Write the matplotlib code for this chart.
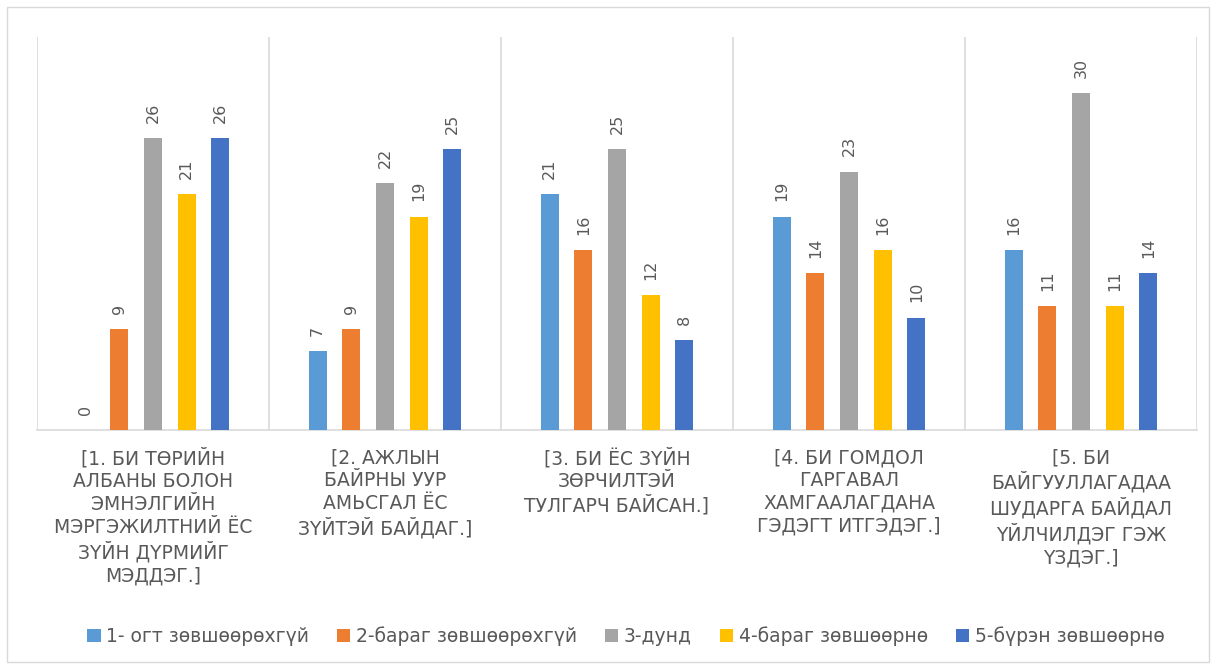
import numpy as np
import matplotlib.pyplot as plt
from matplotlib.patches import Rectangle

plt.rcParams['font.family'] = ['DejaVu Sans']

kategorie = [
    '[1. БИ ТӨРИЙН\nАЛБАНЫ БОЛОН\nЭМНЭЛГИЙН\nМЭРГЭЖИЛТНИЙ ЁС\nЗҮЙН ДҮРМИЙГ\nМЭДДЭГ.]',
    '[2. АЖЛЫН\nБАЙРНЫ УУР\nАМЬСГАЛ ЁС\nЗҮЙТЭЙ БАЙДАГ.]',
    '[3. БИ ЁС ЗҮЙН\nЗӨРЧИЛТЭЙ\nТУЛГАРЧ БАЙСАН.]',
    '[4. БИ ГОМДОЛ\nГАРГАВАЛ\nХАМГААЛАГДАНА\nГЭДЭГТ ИТГЭДЭГ.]',
    '[5. БИ\nБАЙГУУЛЛАГАДАА\nШУДАРГА БАЙДАЛ\nҮЙЛЧИЛДЭГ ГЭЖ\nҮЗДЭГ.]',
]
serie = ['1- огт зөвшөөрөхгүй', '2-бараг зөвшөөрөхгүй', '3-дунд',
         '4-бараг зөвшөөрнө', '5-бүрэн зөвшөөрнө']
wartosci = [
    [0, 7, 21, 19, 16],
    [9, 9, 16, 14, 11],
    [26, 22, 25, 23, 30],
    [21, 19, 12, 16, 11],
    [26, 25, 8, 10, 14],
]
kolory = ['#5B9BD5', '#ED7D31', '#A5A5A5', '#FFC000', '#4472C4']
szary = '#595959'

fig = plt.figure(figsize=(12.16, 6.69), dpi=100)
fig.patches.append(Rectangle((7/1216, 7/669), 1202/1216, 655/669, transform=fig.transFigure,
                             fill=False, edgecolor='#D9D9D9', linewidth=1))
ax = fig.add_axes([37/1216, 1 - 430/669, 1160/1216, 393/669])

x = np.arange(len(kategorie))
krok = 0.145
szer = 0.078
for i in range(len(serie)):
    poz = x + (i - 2) * krok
    ax.bar(poz, wartosci[i], szer, color=kolory[i], label=serie[i], zorder=3)
    for p, w in zip(poz, wartosci[i]):
        ax.annotate(str(w), (p, w), xytext=(0, 11), textcoords='offset points',
                    rotation=90, ha='center', va='bottom', fontsize=11.5, color=szary)

ax.set_xlim(-0.5, len(kategorie) - 0.5)
ax.set_ylim(0, 35)
ax.set_yticks([])
ax.set_xticks(x)
ax.set_xticklabels(kategorie, fontsize=13.5, color=szary, linespacing=1.25)
ax.tick_params(axis='x', length=0, pad=13)
for g in np.arange(-0.5, len(kategorie), 1.0):
    ax.axvline(g, color='#D9D9D9', linewidth=1.2, zorder=1)
for s in ['top', 'right', 'left']:
    ax.spines[s].set_visible(False)
ax.spines['bottom'].set_color('#D9D9D9')
ax.spines['bottom'].set_linewidth(1.2)

fig.legend(loc='center', bbox_to_anchor=(626/1216, 1 - 636/669), ncol=5, frameon=False,
           fontsize=13.5, labelcolor=szary, handlelength=0.7, handleheight=0.7,
           handletextpad=0.3, columnspacing=1.5)

fig.savefig('out.png', dpi=100)
